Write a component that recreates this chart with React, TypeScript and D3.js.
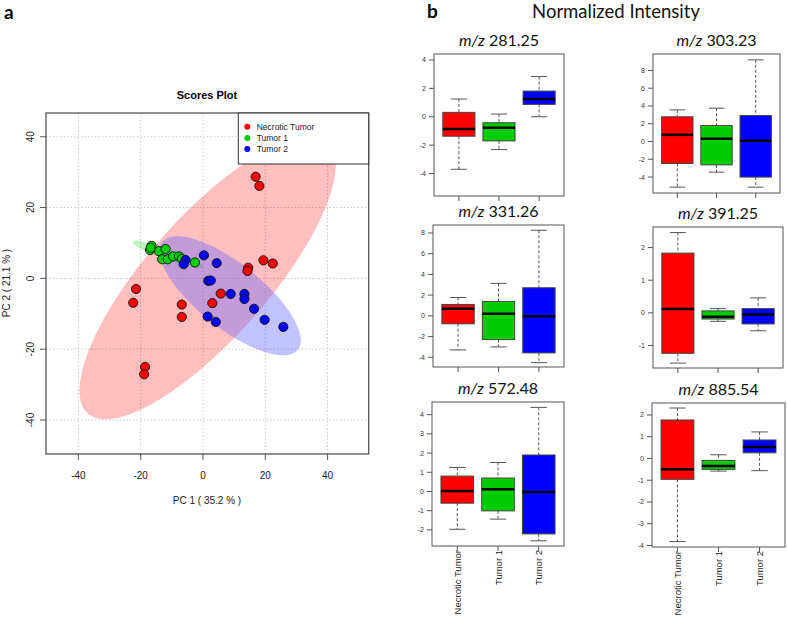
import * as d3 from "d3";

// ---- Scores plot data (PC1, PC2) ----
const necroticX = [16.9, 18.1, -21.5, -22.4, -6.8, -6.8, -18.6, -18.9, 5.7, 3.0, 14.5, 14.3, 19.4, 22.4];
const necroticY = [28.7, 26.1, -3.0, -6.9, -7.4, -10.9, -25.0, -27.1, -4.3, -7.0, 3.0, 2.1, 5.1, 4.2];
const tumor1X = [-16.5, -17.0, -16.8, -14.1, -12.0, -13.1, -11.3, -9.6, -7.7, -6.8, -2.6];
const tumor1Y = [9.2, 8.0, 8.6, 7.7, 8.3, 5.4, 5.4, 6.2, 6.2, 5.5, 4.5];
const tumor2X = [-5.6, -6.2, 0.3, 4.4, 1.7, 2.5, 8.9, 13.3, 13.3, 16.4, 19.8, 25.8, 1.5, 4.1];
const tumor2Y = [5.2, 4.0, 6.5, 4.3, -0.7, -0.6, -4.4, -4.4, -5.8, -8.6, -11.7, -13.7, -10.8, -12.3];

// confidence ellipses: [cx, cy, semi-major, semi-minor, angle deg]
const necroticEllipse = [1.5, 0.2, 54.4, 18.3, 44];
const tumor1Ellipse = [-11.2, 6.7, 11.9, 1.6, -17.6];
const tumor2Ellipse = [8.7, -4.9, 26.6, 9.5, -34];

const pcTicks = [-40, -20, 0, 20, 40];
const groups = ["Necrotic Tumor", "Tumor 1", "Tumor 2"];
const groupColors = ["#ff0000", "#00cd00", "#0000ff"];

// ---- Box plot data: per group [whiskerLow, q1, median, q3, whiskerHigh] ----
const mzLabels = ["281.25", "303.23", "331.26", "391.25", "572.48", "885.54"];
const mz281 = [[-3.7, -1.37, -0.87, 0.31, 1.25], [-2.31, -1.7, -0.78, -0.42, 0.19], [0.0, 0.87, 1.25, 1.81, 2.83]];
const mz303 = [[-5.14, -2.48, 0.75, 2.78, 3.56], [-3.45, -2.63, 0.3, 1.8, 3.75], [-5.14, -4.01, 0.08, 2.93, 9.19]];
const mz331 = [[-3.29, -0.77, 0.68, 1.1, 1.77], [-3.0, -2.29, 0.19, 1.39, 3.13], [-4.52, -3.58, -0.03, 2.71, 8.26]];
const mz391 = [[-1.54, -1.24, 0.12, 1.83, 2.46], [-0.26, -0.19, -0.12, 0.06, 0.13], [-0.55, -0.34, -0.05, 0.13, 0.46]];
const mz572 = [[-1.97, -0.61, 0.03, 0.8, 1.25], [-1.44, -1.01, 0.12, 0.7, 1.51], [-2.57, -2.21, -0.03, 1.9, 4.38]];
const mz885 = [[-3.82, -0.96, -0.49, 1.77, 2.32], [-0.58, -0.5, -0.35, -0.09, 0.17], [-0.56, 0.26, 0.53, 0.85, 1.22]];
const boxStats = [mz281, mz303, mz331, mz391, mz572, mz885];

const yTicks = [
  [-4, -2, 0, 2, 4],
  [-4, -2, 0, 2, 4, 6, 8],
  [-4, -2, 0, 2, 4, 6, 8],
  [-1, 0, 1, 2],
  [-2, -1, 0, 1, 2, 3, 4],
  [-4, -3, -2, -1, 0, 1, 2],
];
const yLimits = [
  [-5.58, 4.42],
  [-5.8, 9.85],
  [-4.94, 8.77],
  [-1.69, 2.63],
  [-2.84, 4.66],
  [-4.07, 2.55],
];

// panel frames in px: left, right, top, bottom
const panelBoxes = [
  [434, 564, 54, 196],
  [653, 780, 54, 193],
  [433, 564, 225, 367],
  [653, 783, 227, 368],
  [432, 564, 402, 546],
  [652, 785, 403, 547],
];

const R_FONT = "'Liberation Sans', Arial, sans-serif";
const C_FONT = "Lato, 'Open Sans', sans-serif";

function ellipsePath(e: number[], x: any, y: any) {
  const [cx, cy, a, b, ang] = e;
  const t = (ang * Math.PI) / 180;
  const pts = d3.range(0, 2 * Math.PI, Math.PI / 90).map((s) => {
    const u = a * Math.cos(s);
    const v = b * Math.sin(s);
    return [cx + u * Math.cos(t) - v * Math.sin(t), cy + u * Math.sin(t) + v * Math.cos(t)];
  });
  return d3.line<number[]>().x((d) => x(d[0])).y((d) => y(d[1])).curve(d3.curveLinearClosed)(pts) as string;
}

function ScoresPlot() {
  const x = d3.scaleLinear().domain([-50.4, 53.2]).range([46, 368.7]);
  const y = d3.scaleLinear().domain([-49.6, 46.7]).range([454, 113]);
  const series = [
    { xs: necroticX, ys: necroticY },
    { xs: tumor1X, ys: tumor1Y },
    { xs: tumor2X, ys: tumor2Y },
  ];
  return (
    <g>
      <text x={4} y={19} fontFamily={C_FONT} fontWeight="bold" fontSize={19}>a</text>
      <text x={207} y={99} textAnchor="middle" fontFamily={R_FONT} fontWeight="bold" fontSize={11}>Scores Plot</text>
      {pcTicks.map((t) => (
        <g key={"g" + t}>
          <line x1={x(t)} x2={x(t)} y1={113} y2={454} stroke="#c8c8c8" strokeDasharray="1.5,2" />
          <line x1={46} x2={368.7} y1={y(t)} y2={y(t)} stroke="#c8c8c8" strokeDasharray="1.5,2" />
        </g>
      ))}
      <path d={ellipsePath(necroticEllipse, x, y)} fill="#ff0000" fillOpacity={0.25} />
      <path d={ellipsePath(tumor1Ellipse, x, y)} fill="#00cd00" fillOpacity={0.25} />
      <path d={ellipsePath(tumor2Ellipse, x, y)} fill="#6666ff" fillOpacity={0.4} />
      {series.map((s, gi) =>
        s.xs.map((v, i) => (
          <circle key={gi + "-" + i} cx={x(v)} cy={y(s.ys[i])} r={4.6} fill={groupColors[gi]} stroke="#111" strokeWidth={0.9} />
        ))
      )}
      <rect x={46} y={113} width={322.7} height={341} fill="none" stroke="#555" strokeWidth={1.3} />
      {pcTicks.map((t) => (
        <g key={"t" + t} fontFamily={R_FONT} fontSize={10} fill="#222">
          <line x1={x(t)} x2={x(t)} y1={454} y2={460} stroke="#555" />
          <text x={x(t)} y={479} textAnchor="middle">{t}</text>
          <line x1={40} x2={46} y1={y(t)} y2={y(t)} stroke="#555" />
          <text transform={`translate(34,${y(t)}) rotate(-90)`} textAnchor="middle">{t}</text>
        </g>
      ))}
      <text x={207} y={504} textAnchor="middle" fontFamily={R_FONT} fontSize={10} fill="#222">PC 1 ( 35.2 % )</text>
      <text transform="translate(10,283) rotate(-90)" textAnchor="middle" fontFamily={R_FONT} fontSize={10} fill="#222">PC 2 ( 21.1 % )</text>
      <rect x={238.3} y={113} width={130.4} height={51} fill="#fff" stroke="#333" strokeWidth={1} />
      {groups.map((g, i) => (
        <g key={g}>
          <circle cx={247.3} cy={126.7 + i * 11.2} r={3} fill={groupColors[i]} />
          <text x={256.7} y={130 + i * 11.2} fontFamily={R_FONT} fontSize={8.5} fill="#222">{g}</text>
        </g>
      ))}
    </g>
  );
}

function BoxPanel({ idx }: { idx: number }) {
  const [l, r, t, b] = panelBoxes[idx];
  const x = d3.scaleLinear().domain([0.38, 3.62]).range([l, r]);
  const y = d3.scaleLinear().domain(yLimits[idx]).range([b, t]);
  const bw = x(1.8) - x(1); // box width = 0.8 category
  const stats = boxStats[idx];
  const bottomRow = idx >= 4;
  return (
    <g>
      <text x={(l + r) / 2} y={t - 8} textAnchor="middle" fontFamily={C_FONT} fontSize={16} fill="#111">
        <tspan fontStyle="italic">m/z</tspan> {mzLabels[idx]}
      </text>
      {stats.map((s, i) => {
        const cx = x(i + 1);
        const [lo, q1, med, q3, hi] = s;
        return (
          <g key={i}>
            <line x1={cx} x2={cx} y1={y(hi)} y2={y(q3)} stroke="#555" strokeDasharray="3,2" />
            <line x1={cx} x2={cx} y1={y(q1)} y2={y(lo)} stroke="#555" strokeDasharray="3,2" />
            <line x1={cx - bw / 4} x2={cx + bw / 4} y1={y(hi)} y2={y(hi)} stroke="#555" />
            <line x1={cx - bw / 4} x2={cx + bw / 4} y1={y(lo)} y2={y(lo)} stroke="#555" />
            <rect x={cx - bw / 2} y={y(q3)} width={bw} height={y(q1) - y(q3)} fill={groupColors[i]} stroke="#444" strokeWidth={1} />
            <line x1={cx - bw / 2} x2={cx + bw / 2} y1={y(med)} y2={y(med)} stroke="#000" strokeWidth={2.5} />
          </g>
        );
      })}
      <rect x={l} y={t} width={r - l} height={b - t} fill="none" stroke="#555" strokeWidth={1} />
      {yTicks[idx].map((v) => (
        <g key={v}>
          <line x1={l - 5} x2={l} y1={y(v)} y2={y(v)} stroke="#555" />
          <text x={l - 8} y={y(v) + 2.5} textAnchor="end" fontFamily={R_FONT} fontSize={7} fill="#333">{v}</text>
        </g>
      ))}
      {groups.map((g, i) => (
        <g key={g}>
          <line x1={x(i + 1)} x2={x(i + 1)} y1={b} y2={b + 5} stroke="#555" />
          {bottomRow && (
            <text transform={`translate(${x(i + 1) + 3.5},${b + 4}) rotate(-90)`} textAnchor="end" fontFamily={R_FONT} fontSize={9.5} fill="#222">
              {g}
            </text>
          )}
        </g>
      ))}
    </g>
  );
}

export default function App() {
  return (
    <svg width={787} height={619} style={{ position: "absolute", left: 0, top: 0, background: "#fff" }}>
      <ScoresPlot />
      <text x={427} y={18} fontFamily={C_FONT} fontWeight="bold" fontSize={19}>b</text>
      <text x={616} y={18} textAnchor="middle" fontFamily={C_FONT} fontSize={18.5} fill="#111">Normalized Intensity</text>
      {boxStats.map((_, i) => (
        <BoxPanel key={i} idx={i} />
      ))}
    </svg>
  );
}
